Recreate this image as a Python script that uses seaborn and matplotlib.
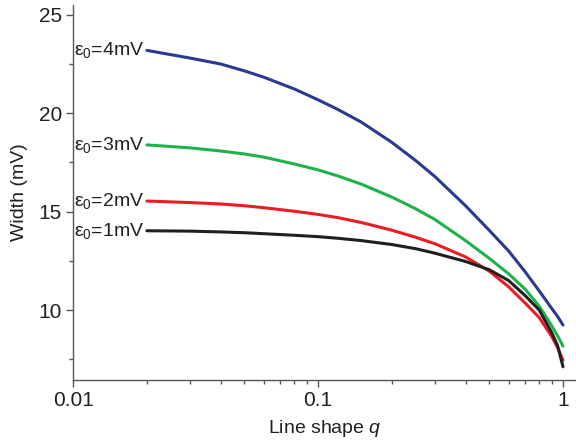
import numpy as np
import pandas as pd
import matplotlib
matplotlib.use("Agg")
import matplotlib.pyplot as plt
import seaborn as sns
from matplotlib.ticker import FixedLocator, LogLocator, NullFormatter

# values
q = [0.02, 0.03, 0.04, 0.05, 0.06, 0.08, 0.1, 0.12, 0.15, 0.2,
     0.25, 0.3, 0.4, 0.5, 0.6, 0.7, 0.8, 0.9, 0.95, 1.0]
w_4mV = [23.19, 22.80, 22.50, 22.15, 21.83, 21.23, 20.68, 20.20, 19.55, 18.52,
         17.60, 16.78, 15.30, 14.05, 13.00, 11.95, 10.97, 10.08, 9.68, 9.24]
w_3mV = [18.39, 18.24, 18.08, 17.93, 17.77, 17.42, 17.12, 16.82, 16.40, 15.74,
         15.15, 14.60, 13.53, 12.63, 11.84, 11.07, 10.20, 9.20, 8.70, 8.17]
w_2mV = [15.54, 15.46, 15.39, 15.30, 15.20, 15.02, 14.86, 14.70, 14.45, 14.06,
         13.70, 13.37, 12.70, 11.98, 11.18, 10.36, 9.62, 8.65, 8.10, 7.46]
w_1mV = [14.03, 14.01, 13.97, 13.93, 13.88, 13.80, 13.73, 13.65, 13.53, 13.33,
         13.12, 12.89, 12.47, 12.05, 11.50, 10.74, 10.00, 8.85, 8.20, 7.12]
eps = ["4mV", "3mV", "2mV", "1mV"]
colors = ["#2b3990", "#1db34a", "#ed1c24", "#231f20"]

df = pd.DataFrame({
    "q": q * 4,
    "width": w_4mV + w_3mV + w_2mV + w_1mV,
    "eps": sum([[e] * len(q) for e in eps], []),
})

sns.set_style("ticks")
plt.rcParams["font.family"] = ["Liberation Sans", "DejaVu Sans"]
plt.rcParams["mathtext.fontset"] = "custom"
plt.rcParams["mathtext.rm"] = "Liberation Sans"
plt.rcParams["mathtext.it"] = "Liberation Sans:italic"

fig = plt.figure(figsize=(5.76, 4.46), dpi=100)
ax = fig.add_axes([0.127, 0.148, 0.873, 0.841])

sns.lineplot(data=df, x="q", y="width", hue="eps", palette=colors,
             linewidth=2.2, legend=False, ax=ax)

ax.set_xscale("log")
ax.set_xlim(0.01, 1.13)
ax.set_ylim(6.45, 25.5)

ax.xaxis.set_major_locator(FixedLocator([0.01, 0.1, 1]))
ax.set_xticklabels(["0.01", "0.1", "1"])
ax.xaxis.set_minor_locator(LogLocator(base=10, subs=np.arange(2, 10)))
ax.xaxis.set_minor_formatter(NullFormatter())
ax.yaxis.set_major_locator(FixedLocator([10, 15, 20, 25]))
ax.yaxis.set_minor_locator(FixedLocator([7.5, 12.5, 17.5, 22.5]))

sns.despine(ax=ax)
for s in ["left", "bottom"]:
    ax.spines[s].set_color("#555555")
    ax.spines[s].set_linewidth(1.0)
ax.tick_params(which="major", length=5, width=1, color="#555555",
               labelsize=15, labelcolor="#231f20", pad=3)
ax.tick_params(which="minor", length=3, width=1, color="#555555")

ax.set_xlabel("Line shape $q$", fontsize=14, color="#231f20", labelpad=6)
ax.set_ylabel("Width (mV)", fontsize=14, color="#231f20", labelpad=8)

# curve labels at the left end of each line
for e, w in zip(eps, [w_4mV, w_3mV, w_2mV, w_1mV]):
    ax.text(0.0195, w[0], r"$\mathregular{ε_0}$=" + e, ha="right", va="center",
            fontsize=14, color="#231f20")

fig.savefig("out.png", dpi=100)
